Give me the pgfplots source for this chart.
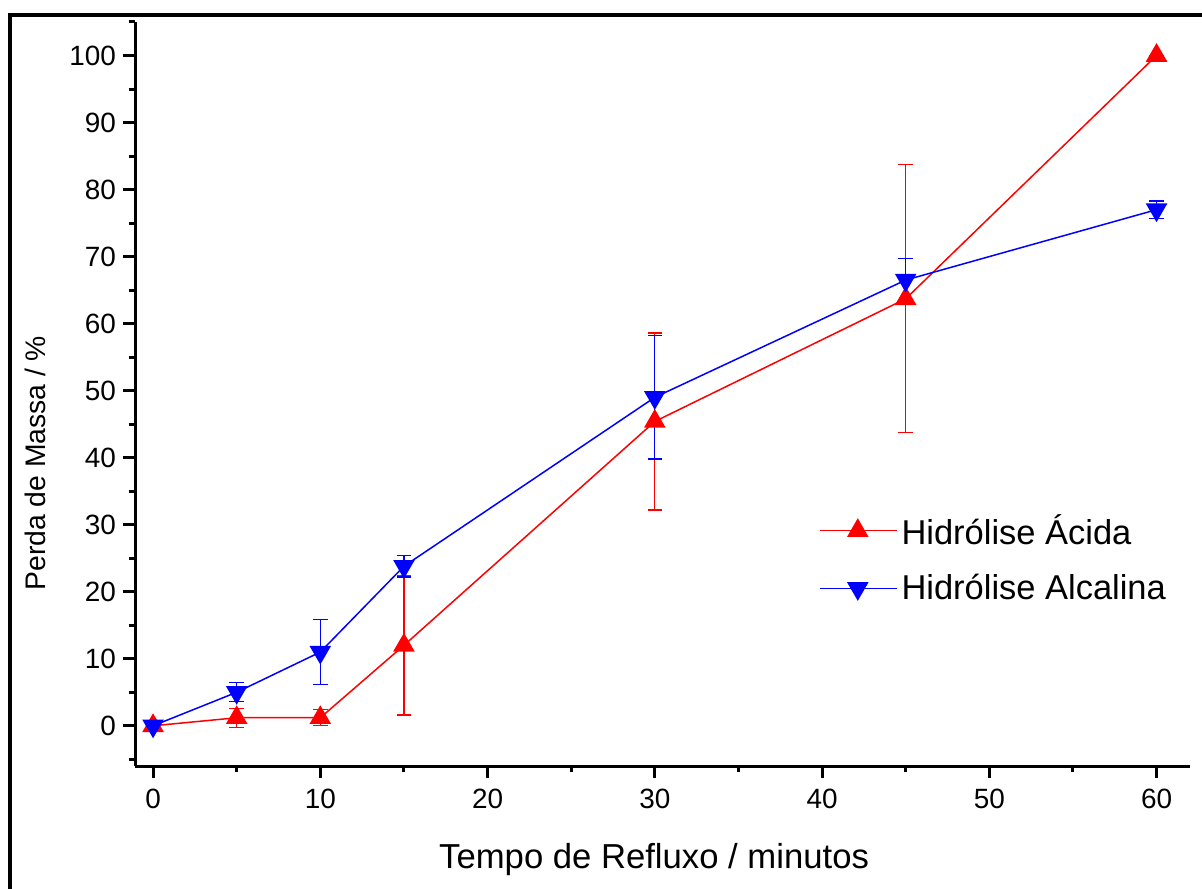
\documentclass[border=0pt]{standalone}
\usepackage{fontspec}
\setmainfont{Liberation Sans}
\usepackage{pgfplots}
\pgfplotsset{compat=1.18}

\begin{document}
\begin{tikzpicture}
\useasboundingbox (-67.5bp,-61.5bp) rectangle (533.5bp,383bp);
\begin{axis}[
  at={(0,0)}, anchor=south west,
  scale only axis, width=527.5bp, height=372bp,
  xmin=-1.08, xmax=62.0, ymin=-6, ymax=105,
  axis lines=left,
  axis line style={-, line width=1.5bp},
  xtick={0,10,...,60}, minor xtick={5,15,...,55},
  ytick={0,10,...,100}, minor ytick={-5,5,...,105},
  tick align=outside,
  major tick length=6bp, minor tick length=3.2bp,
  every tick/.style={black, line width=1.5bp},
  /pgf/number format/assume math mode=true,
  ticklabel style={font=\fontsize{14}{16}\selectfont},
  xticklabel style={yshift=-2bp},
  xlabel={Tempo de Refluxo / minutos},
  ylabel={Perda de Massa / \%},
  xlabel style={font=\fontsize{17.4}{20}\selectfont, at={(axis description cs:0.492,-0.126)}, anchor=center},
  ylabel style={font=\fontsize{14.2}{17}\selectfont, at={(axis description cs:-0.094,0.407)}, anchor=center, rotate=0},
  legend style={at={(axis description cs:0.648,0.279)}, anchor=west, draw=none, fill=none,
    font=\fontsize{17.3}{20}\selectfont, row sep=9.5bp, inner sep=0pt},
  legend cell align=left,
  legend image code/.code={
    \draw[mark repeat=2, mark phase=2, #1] plot coordinates {(0bp,0bp)(19bp,0bp)(38.5bp,0bp)};
  },
]
\addplot[red, line width=0.75bp, mark=triangle*, mark size=5.5bp, mark options={solid, fill=red},
  error bars/.cd, y dir=both, y explicit,
  error bar style={red, line width=0.6bp},
  error mark options={rotate=90, mark size=3.6bp, line width=0.6bp, red}]
  coordinates {
  (0,0) +- (0,0.7)
  (5,1.2) +- (0,1.4)
  (10,1.2) +- (0,1.2)
  (15,12.0) +- (0,10.4)
  (30,45.4) +- (0,13.2)
  (45,63.7) +- (0,20.0)
  (60,100.0) +- (0,0)
};
\addlegendentry{Hidrólise Ácida}
\addplot[blue, line width=0.75bp, mark=triangle*, mark size=5.5bp, mark options={solid, fill=blue, rotate=180},
  error bars/.cd, y dir=both, y explicit,
  error bar style={blue, line width=0.6bp},
  error mark options={rotate=90, mark size=3.6bp, line width=0.6bp, blue}]
  coordinates {
  (0,0) +- (0,0.5)
  (5,5.0) +- (0,1.4)
  (10,11.0) +- (0,4.8)
  (15,23.8) +- (0,1.6)
  (30,49.0) +- (0,9.2)
  (45,66.5) +- (0,3.2)
  (60,77.0) +- (0,1.3)
};
\addlegendentry{Hidrólise Alcalina}
\end{axis}
\draw[line width=2bp] (-62.5bp,-62bp) -- (-62.5bp,375.6bp) -- (534bp,375.6bp);
\end{tikzpicture}
\end{document}
